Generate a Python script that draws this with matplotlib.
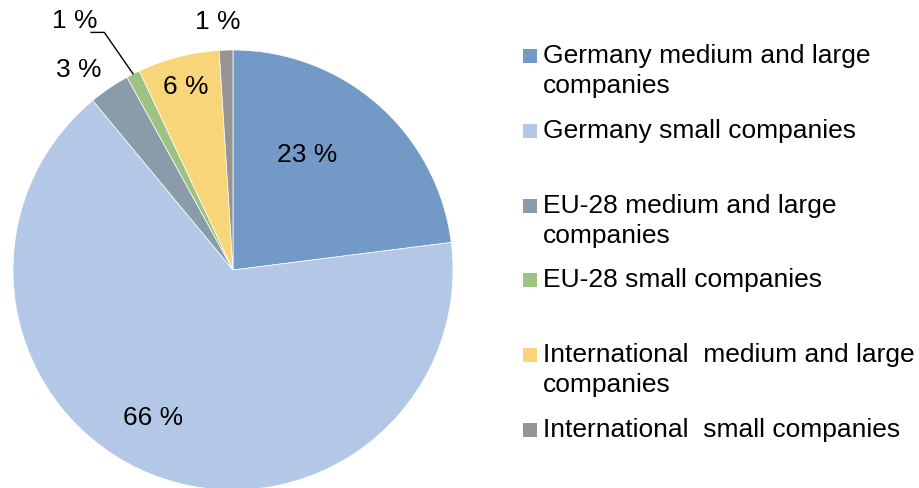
import numpy as np
import matplotlib.pyplot as plt
from matplotlib.patches import Rectangle

plt.rcParams['font.family'] = ['Liberation Sans', 'DejaVu Sans']

# data
labels = ['Germany medium and large\ncompanies',
          'Germany small companies',
          'EU-28 medium and large\ncompanies',
          'EU-28 small companies',
          'International  medium and large\ncompanies',
          'International  small companies']
shares = [23, 66, 3, 1, 6, 1]
colors = ['#7399C6', '#B3C8E6', '#8A9BAA', '#9DC284', '#F9D57A', '#959595']

# where each percentage label sits (pie data units, radius = 1)
label_pos = [(0.336, 0.523), (-0.364, -0.673), (-0.70, 0.91),
             (-0.72, 1.13), (-0.214, 0.832), (-0.068, 1.127)]

fig = plt.figure(figsize=(9.2, 4.88), dpi=100)
W, H = 920, 488
cx, cy, R = 233, 270, 220
ax = fig.add_axes([(cx - R) / W, (H - cy - R) / H, 2 * R / W, 2 * R / H])

wedges, _ = ax.pie(shares, colors=colors, startangle=90, counterclock=False,
                   radius=1, wedgeprops=dict(linewidth=0.5, edgecolor='white'))
ax.set_xlim(-1, 1)
ax.set_ylim(-1, 1)
ax.axis('off')

fs = 19
for i, w in enumerate(wedges):
    x, y = label_pos[i]
    ax.text(x, y, '%d %%' % shares[i], ha='center', va='center', fontsize=fs,
            clip_on=False)

# leader line for the small green slice
w = wedges[3]
mid = np.deg2rad((w.theta1 + w.theta2) / 2)
lx, ly = -0.585, 1.08
ax.plot([np.cos(mid), lx, lx - 0.06], [np.sin(mid), ly, ly], color='black',
        lw=1, clip_on=False)

# legend drawn by hand, evenly spaced slots (first-line baselines)
top = 63
step = 74.8
line_h = 30
for i, lab in enumerate(labels):
    y = top + i * step
    fig.patches.append(Rectangle((523 / W, 1 - y / H), 14 / W, 14 / H,
                                 transform=fig.transFigure, facecolor=colors[i],
                                 edgecolor='none'))
    for j, part in enumerate(lab.split('\n')):
        fig.text(543 / W, 1 - (y + j * line_h) / H, part, ha='left',
                 va='baseline', fontsize=fs)

fig.savefig('out.png', dpi=100)
